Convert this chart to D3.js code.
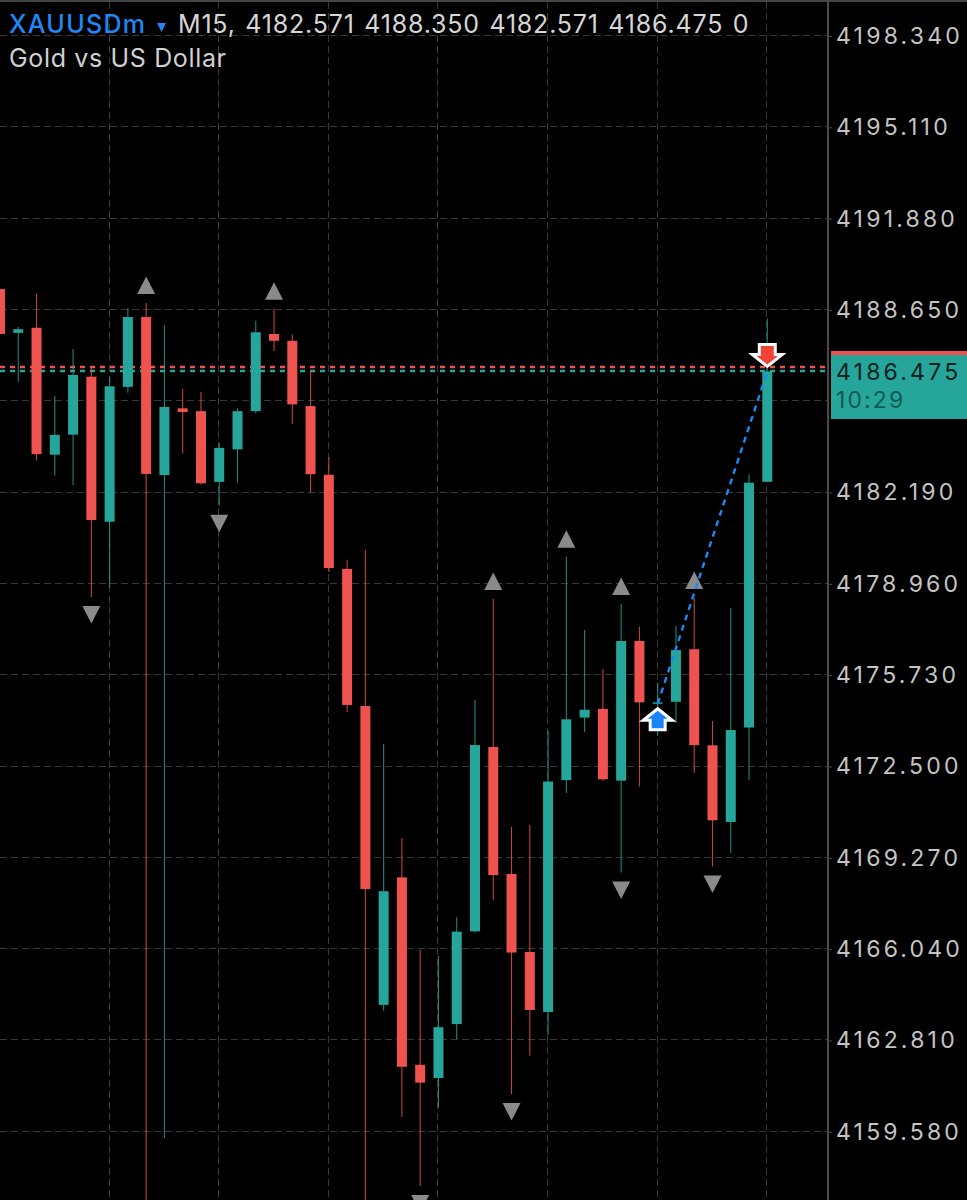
<!DOCTYPE html>
<html><head><meta charset="utf-8">
<style>html,body{margin:0;padding:0;background:#000}svg{display:block}text{font-family:Inter,"Liberation Sans",Arial,sans-serif}</style>
<script src="https://cdn.jsdelivr.net/npm/d3@7"></script></head>
<body><svg id="c" width="967" height="1200"></svg>
<script>
const opens  = [4189.39,4187.84,4188.02,4183.53,4184.24,4186.29,4181.16,4185.93,4188.40,4182.81,4185.17,4185.07,4182.57,4183.72,4185.07,4187.80,4187.56,4185.25,4182.82,4179.49,4174.64,4164.07,4168.58,4161.95,4161.48,4163.39,4166.67,4173.19,4168.70,4165.94,4163.82,4172.02,4174.23,4174.54,4172.00,4176.94,4174.72,4174.79,4176.65,4173.25,4170.54,4173.88,4182.571];
const highs  = [4189.39,4188.05,4189.22,4185.61,4187.27,4186.64,4186.28,4188.72,4188.90,4188.11,4185.86,4185.75,4183.95,4185.18,4188.27,4188.69,4187.78,4186.53,4183.45,4179.81,4180.16,4173.30,4169.97,4166.01,4165.80,4167.17,4174.85,4178.43,4170.36,4170.43,4173.77,4179.92,4177.33,4175.95,4178.25,4177.44,4175.46,4177.47,4178.46,4174.11,4178.11,4182.84,4188.350];
const lows   = [4187.80,4186.11,4183.32,4182.79,4182.46,4178.50,4178.82,4185.72,4156.11,4159.36,4183.57,4182.48,4181.72,4182.54,4185.00,4187.20,4184.62,4182.19,4179.38,4174.43,4156.11,4163.86,4160.11,4157.66,4160.43,4162.86,4166.65,4167.78,4160.92,4162.27,4163.00,4171.56,4173.72,4172.00,4168.75,4171.79,4173.59,4174.04,4172.27,4168.96,4169.44,4172.02,4182.571];
const closes = [4187.80,4187.97,4183.55,4184.23,4186.35,4181.22,4185.95,4188.40,4182.85,4185.22,4185.04,4182.52,4183.77,4185.07,4187.86,4187.56,4185.31,4182.84,4179.52,4174.68,4168.17,4168.09,4161.88,4161.32,4163.28,4166.66,4173.26,4168.66,4165.92,4163.89,4171.97,4174.17,4174.51,4172.05,4176.94,4174.77,4174.77,4176.62,4173.26,4170.60,4173.79,4182.54,4186.475];
const fractalUp = [8,15,27,31,34,38];
const fractalDown = [5,12,23,28,34,39];
const priceTicks = [4198.34,4195.11,4191.88,4188.65,4185.42,4182.19,4178.96,4175.73,4172.50,4169.27,4166.04,4162.81,4159.58];
const labelTicks = priceTicks.filter(t => t !== 4185.42);
const timeTicks = [0,6,12,18,24,30,36,42];
const bid = 4186.475, ask = 4186.63;
const tradeIn = {i:36, price:4174.72}, tradeOut = {i:42, price:4186.475};
const headerOhlc = "M15, 4182.571 4188.350 4182.571 4186.475 0";
const UP="#26a69a", DOWN="#ef5350";

const svg = d3.select("#c");
const x = d3.scaleLinear().domain([0,42]).range([0,767.3]);
const y = d3.scaleLinear().domain([4198.34,4159.58]).range([36,1131.8]);
const plotR = 828;
svg.append("rect").attr("width",967).attr("height",1200).attr("fill","#000");
svg.append("rect").attr("width",967).attr("height",2).attr("fill","#444");

// grid
const grid = svg.append("g").attr("stroke","#383838").attr("stroke-width",1).attr("stroke-dasharray","7 4");
grid.selectAll(".h").data(priceTicks).join("line").attr("x1",0).attr("x2",plotR)
  .attr("y1",d=>Math.round(y(d))-.5).attr("y2",d=>Math.round(y(d))-.5);
grid.selectAll(".v").data(timeTicks).join("line").attr("y1",2).attr("y2",1200)
  .attr("x1",d=>Math.round(x(d))-.5).attr("x2",d=>Math.round(x(d))-.5);

// price lines
[[ask,DOWN],[bid,UP]].forEach(([p,c])=>{
  svg.append("line").attr("x1",0).attr("x2",plotR-2).attr("y1",Math.round(y(p))).attr("y2",Math.round(y(p)))
    .attr("stroke",c).attr("stroke-width",2.4).attr("stroke-dasharray","5 5");
});

// candles
const data = opens.map((o,i)=>({i,o,h:highs[i],l:lows[i],c:closes[i]}));
const col = d=>d.c>=d.o?UP:DOWN;
svg.append("g").selectAll("line").data(data).join("line")
  .attr("x1",d=>x(d.i)).attr("x2",d=>x(d.i)).attr("y1",d=>y(d.h)).attr("y2",d=>y(d.l))
  .attr("stroke",col).attr("stroke-width",1.1).attr("stroke-opacity",.8);
svg.append("g").selectAll("rect").data(data).join("rect")
  .attr("x",d=>x(d.i)-5).attr("width",10)
  .attr("y",d=>y(Math.max(d.o,d.c))).attr("height",d=>Math.max(1.2,Math.abs(y(d.o)-y(d.c))))
  .attr("fill",col);

// fractals
const gap=9,tw=9,th=17.5;
svg.append("g").selectAll("path").data(fractalUp).join("path").attr("fill","#8a8a8a")
  .attr("transform",i=>`translate(${x(i)},${y(highs[i])-gap})`)
  .attr("d",`M${-tw},0L${tw},0L0,${-th}Z`);
svg.append("g").selectAll("path").data(fractalDown).join("path").attr("fill","#8a8a8a")
  .attr("transform",i=>`translate(${x(i)},${y(lows[i])+gap})`)
  .attr("d",`M${-tw},0L${tw},0L0,${th}Z`);

// trade line
svg.append("line").attr("x1",x(tradeIn.i)).attr("y1",y(tradeIn.price)).attr("x2",x(tradeOut.i)).attr("y2",y(tradeOut.price))
  .attr("stroke","#1e88f5").attr("stroke-width",2.4).attr("stroke-dasharray","6 5");
// entry arrow
svg.append("path").attr("transform",`translate(${x(tradeIn.i)},${y(tradeIn.price)+2})`)
  .attr("d","M0,3L14.5,14.5H7.5V24H-7.5V14.5H-14.5Z").attr("fill","#1a84f7").attr("stroke","#fff").attr("stroke-width",3);
// exit arrow
svg.append("path").attr("transform",`translate(${x(tradeOut.i)},${y(tradeOut.price)-2})`)
  .attr("d","M0,-3L-15,-15H-8V-25H8V-15H15Z").attr("fill","#f44336").attr("stroke","#fff").attr("stroke-width",3);

// axis
const axis = d3.axisRight(y).tickValues(labelTicks).tickFormat(d3.format(".3f")).tickSize(4).tickPadding(4);
const ag = svg.append("g").attr("transform",`translate(${plotR},0)`).call(axis);
ag.select(".domain").attr("stroke","#4a4a4a").attr("stroke-width",2).attr("d","M0,0V1200");
ag.selectAll(".tick line").attr("stroke","#4a4a4a");
ag.selectAll(".tick text").attr("fill","#c4c4c4").attr("font-size",23).attr("letter-spacing",3.2)
  .attr("font-family","Inter");

// current price box
svg.append("rect").attr("x",831).attr("y",355).attr("width",136).attr("height",64).attr("fill",UP);
svg.append("rect").attr("x",831).attr("y",351).attr("width",136).attr("height",4).attr("fill",DOWN);
svg.append("text").attr("x",836).attr("y",379.5).attr("font-size",23).attr("letter-spacing",3.2).attr("fill","#06201d").text(d3.format(".3f")(bid));
svg.append("text").attr("x",836).attr("y",408).attr("font-size",23).attr("letter-spacing",2.1).attr("fill","#0f5a53").text("10:29");

// header
svg.append("text").attr("x",9).attr("y",33).attr("font-size",25).attr("letter-spacing",1.3).attr("font-weight",500).attr("fill","#1e88f5").text("XAUUSDm");
svg.append("path").attr("d","M157,23H166L161.5,32Z").attr("fill","#1e88f5");
svg.append("text").attr("x",178).attr("y",33).attr("font-size",25).attr("letter-spacing",0.8).attr("word-spacing",1.8).attr("fill","#d6d6d6").text(headerOhlc);
svg.append("text").attr("x",9).attr("y",67).attr("font-size",25).attr("letter-spacing",0.65).attr("fill","#d0d0d0").text("Gold vs US Dollar");
</script></body></html>
